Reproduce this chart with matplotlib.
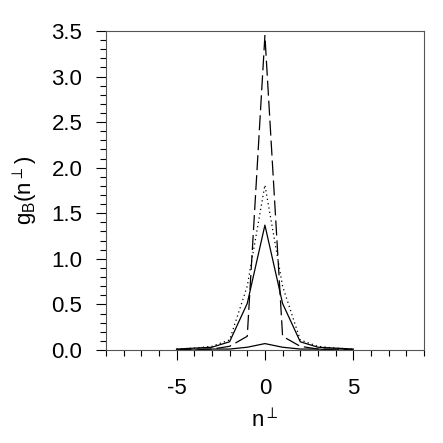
import numpy as np
import matplotlib
matplotlib.use('Agg')
import matplotlib.pyplot as plt
from matplotlib.ticker import MultipleLocator

plt.rcParams['font.family'] = ['Liberation Sans', 'DejaVu Sans']
plt.rcParams['mathtext.fontset'] = 'custom'
plt.rcParams['mathtext.rm'] = 'Liberation Sans'
plt.rcParams['mathtext.fallback'] = 'stixsans'
plt.rcParams['axes.unicode_minus'] = False

# datos
n_perp = [-5, -4, -3, -2, -1, 0, 1, 2, 3, 4, 5]
g_solid = [0.01, 0.02, 0.03, 0.09, 0.51, 1.37, 0.51, 0.09, 0.03, 0.02, 0.01]
g_dotted = [0.01, 0.02, 0.04, 0.11, 0.70, 1.81, 0.70, 0.11, 0.04, 0.02, 0.01]
g_dashed = [0.0, 0.01, 0.01, 0.04, 0.15, 3.45, 0.15, 0.04, 0.01, 0.01, 0.0]
g_small = [0.0, 0.0, 0.01, 0.01, 0.03, 0.07, 0.03, 0.01, 0.01, 0.0, 0.0]

fig = plt.figure(figsize=(4.43, 4.43), dpi=100)
ax = fig.add_axes([0.239, 0.21, 0.718, 0.72])

ax.plot(n_perp, g_solid, color='black', lw=0.9)
ax.plot(n_perp, g_dotted, color='black', lw=0.9, linestyle=(0, (1, 2.5)))
ax.plot(n_perp, g_dashed, color='black', lw=0.9, linestyle=(0, (12, 4)))
ax.plot(n_perp, g_small, color='black', lw=0.9)

ax.set_xlim(-9, 9)
ax.set_ylim(0, 3.5)
ax.xaxis.set_major_locator(MultipleLocator(5))
ax.xaxis.set_minor_locator(MultipleLocator(1))
ax.yaxis.set_major_locator(MultipleLocator(0.5))
ax.yaxis.set_minor_locator(MultipleLocator(0.1))
ax.yaxis.set_major_formatter(plt.FuncFormatter(lambda v, p: '%.1f' % v))

ax.tick_params(which='major', direction='out', length=7, width=0.8, labelsize=16)
ax.tick_params(axis='x', which='major', pad=13)
ax.tick_params(axis='y', which='major', pad=10)
ax.tick_params(which='minor', direction='out', length=4.3, width=0.8)
for s in ax.spines.values():
    s.set_linewidth(0.8)
    s.set_color('#555555')

ax.set_xlabel(r'n$^{\perp}$', fontsize=16, labelpad=8)
ax.set_ylabel(r'g$_{\rm B}$(n$^{\perp}$)', fontsize=16, labelpad=8)

plt.savefig('out.png', dpi=100)
